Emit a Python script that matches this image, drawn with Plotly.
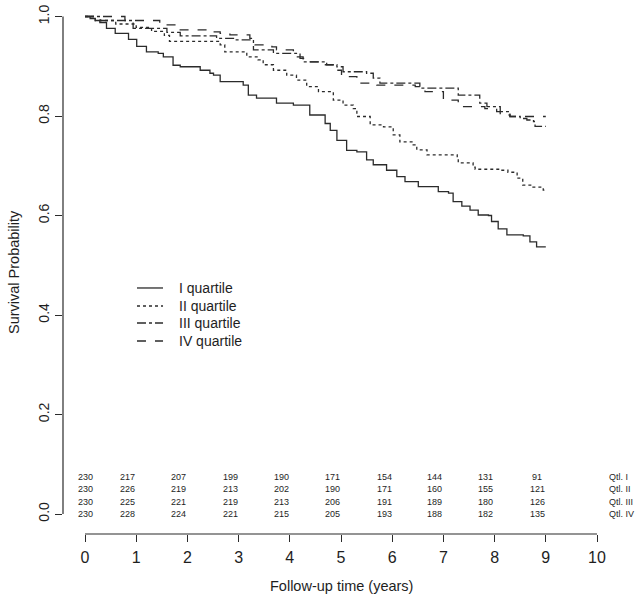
import plotly.graph_objects as go

# ---------------- data ----------------
t_q1 = [0, 0.10, 0.20, 0.29, 0.42, 0.59, 0.85, 1.01, 1.20, 1.43, 1.53, 1.72, 1.86, 2.25, 2.44, 2.51, 2.64,
        3.09, 3.19, 3.35, 3.74, 4.07, 4.39, 4.69, 4.79, 4.92, 5.11, 5.31, 5.50, 5.63, 5.89, 6.09, 6.25, 6.51,
        6.90, 7.10, 7.19, 7.36, 7.52, 7.68, 7.88, 7.94, 8.07, 8.24, 8.56, 8.69, 8.82, 9.0]
s_q1 = [1.0, 0.996, 0.992, 0.988, 0.976, 0.966, 0.954, 0.940, 0.929, 0.926, 0.919, 0.902, 0.899, 0.892, 0.886,
        0.882, 0.869, 0.862, 0.842, 0.836, 0.826, 0.822, 0.802, 0.785, 0.771, 0.751, 0.731, 0.728, 0.712, 0.702,
        0.691, 0.678, 0.668, 0.658, 0.648, 0.645, 0.628, 0.619, 0.611, 0.601, 0.600, 0.588, 0.573, 0.561, 0.559,
        0.547, 0.537, 0.537]

t_q2 = [0, 0.30, 0.60, 1.00, 1.30, 1.55, 1.65, 2.64, 2.73, 3.16, 3.38, 3.48, 3.68, 3.94, 4.13, 4.33, 4.56,
        4.85, 5.04, 5.24, 5.31, 5.57, 5.83, 6.02, 6.15, 6.41, 6.48, 6.68, 7.27, 7.29, 7.58, 7.62, 8.11, 8.26,
        8.44, 8.55, 8.75, 8.95, 9.0]
s_q2 = [1.0, 0.992, 0.985, 0.978, 0.970, 0.962, 0.950, 0.943, 0.929, 0.919, 0.913, 0.903, 0.892, 0.882, 0.872,
        0.859, 0.849, 0.832, 0.822, 0.815, 0.799, 0.782, 0.778, 0.762, 0.748, 0.742, 0.732, 0.722, 0.716, 0.706,
        0.697, 0.693, 0.691, 0.687, 0.675, 0.661, 0.657, 0.651, 0.651]

t_q3 = [0, 0.20, 0.94, 1.60, 1.86, 2.57, 2.90, 3.29, 3.68, 4.13, 4.26, 4.72, 4.92, 5.04, 5.50, 5.63, 5.76,
        6.54, 7.29, 7.71, 7.85, 8.11, 8.30, 8.50, 8.63, 8.76, 8.79, 9.0]
s_q3 = [1.0, 0.992, 0.976, 0.968, 0.961, 0.956, 0.953, 0.933, 0.926, 0.919, 0.909, 0.903, 0.899, 0.889, 0.886,
        0.876, 0.866, 0.856, 0.842, 0.826, 0.819, 0.809, 0.799, 0.795, 0.792, 0.789, 0.779, 0.779]

t_q4 = [0, 0.78, 1.46, 1.80, 2.40, 2.64, 2.83, 3.22, 3.32, 3.65, 3.74, 4.07, 4.20, 4.30, 4.59, 4.92, 5.01,
        5.31, 5.70, 6.45, 6.64, 7.00, 7.29, 7.81, 8.04, 8.11, 8.30, 9.0]
s_q4 = [1.0, 0.992, 0.983, 0.973, 0.969, 0.966, 0.963, 0.956, 0.943, 0.939, 0.933, 0.926, 0.916, 0.909, 0.903,
        0.892, 0.879, 0.866, 0.862, 0.859, 0.849, 0.832, 0.819, 0.815, 0.809, 0.802, 0.799, 0.799]

series_names = ["I quartile", "II quartile", "III quartile", "IV quartile"]
row_labels = ["Qtl. I", "Qtl. II", "Qtl. III", "Qtl. IV"]

risk_times = [0, 0.83, 1.83, 2.84, 3.83, 4.83, 5.84, 6.83, 7.83, 8.83]
risk_q1 = [230, 217, 207, 199, 190, 171, 154, 144, 131, 91]
risk_q2 = [230, 226, 219, 213, 202, 190, 171, 160, 155, 121]
risk_q3 = [230, 225, 221, 219, 213, 206, 191, 189, 180, 126]
risk_q4 = [230, 228, 224, 221, 215, 205, 193, 188, 182, 135]

x_ticks = list(range(0, 11))
y_ticks = [0.0, 0.2, 0.4, 0.6, 0.8, 1.0]
y_tick_text = ["0.0", "0.2", "0.4", "0.6", "0.8", "1.0"]

# ---------------- figure ----------------
FONT = "Liberation Sans, Arial, Helvetica, sans-serif"
LINE_COL = "#2b2b2b"
TXT = "#1e1e1e"

fig = go.Figure()
dashes = ["solid", "dot", "dashdot", "dash"]
for t, s, name, d in zip([t_q1, t_q2, t_q3, t_q4], [s_q1, s_q2, s_q3, s_q4], series_names, dashes):
    fig.add_trace(go.Scatter(x=t, y=s, mode="lines", name=name, line_shape="hv", showlegend=False,
                             line=dict(color=LINE_COL, width=1.3, dash=d)))

row_y = [0.0744, 0.0503, 0.0241, 0.0]
annotations = []
for vals, lab, yy in zip([risk_q1, risk_q2, risk_q3, risk_q4], row_labels, row_y):
    for tx, v in zip(risk_times, vals):
        annotations.append(dict(x=tx, y=yy, xref="x", yref="y", text=str(v), showarrow=False,
                                font=dict(size=9, color=TXT, family=FONT), xanchor="center", yanchor="middle"))
    annotations.append(dict(x=10.2, y=yy, xref="x", yref="y", text=lab, showarrow=False,
                            font=dict(size=9, color=TXT, family=FONT), xanchor="left", yanchor="middle"))

annotations.append(dict(x=-0.0864, y=0.5, xref="paper", yref="paper", text="Survival Probability",
                        textangle=-90, showarrow=False, font=dict(size=14.5, color=TXT, family=FONT),
                        xanchor="center", yanchor="middle"))
annotations.append(dict(x=5, y=-0.0998, xref="x", yref="paper", text="Follow-up time (years)",
                        showarrow=False, font=dict(size=14.5, color=TXT, family=FONT),
                        xanchor="center", yanchor="middle"))

shapes = [
    dict(type="line", xref="x", yref="paper", x0=0, x1=10, y0=0, y1=0, line=dict(color=LINE_COL, width=1.2)),
    dict(type="line", xref="paper", yref="y", x0=0, x1=0, y0=0, y1=1, line=dict(color=LINE_COL, width=1.2)),
]

# manual legend (R-style, tight rows)
leg_x0, leg_x1, leg_tx = 0.1305, 0.1764, 0.2011
leg_rows = [0.4695, 0.4351, 0.4027, 0.3683]
for name, d, yy in zip(series_names, dashes, leg_rows):
    shapes.append(dict(type="line", xref="paper", yref="paper", x0=leg_x0, x1=leg_x1, y0=yy, y1=yy,
                       line=dict(color=LINE_COL, width=1.3, dash=d)))
    annotations.append(dict(x=leg_tx, y=yy, xref="paper", yref="paper", text=name, showarrow=False,
                            font=dict(size=14, color=TXT, family=FONT), xanchor="left", yanchor="middle"))

fig.update_layout(
    width=641, height=603,
    margin=dict(l=63, r=11, t=10, b=69),
    paper_bgcolor="white", plot_bgcolor="white",
    font=dict(family=FONT, color=TXT, size=14),
    showlegend=False,
    xaxis=dict(range=[-0.4297, 10.6445], showgrid=False, zeroline=False, showline=False, automargin=False,
               tickmode="array", tickvals=x_ticks, ticks="outside", ticklen=7, tickwidth=1.2,
               tickcolor=LINE_COL, ticklabelstandoff=2, tickfont=dict(size=16, family=FONT, color=TXT)),
    yaxis=dict(range=[-0.0402, 1.0131], showgrid=False, zeroline=False, showline=False, automargin=False,
               tickmode="array", tickvals=y_ticks, ticktext=y_tick_text, ticks="outside", ticklen=7,
               tickwidth=1.2, tickcolor=LINE_COL, tickangle=-90, tickfont=dict(size=14, family=FONT, color=TXT)),
    annotations=annotations,
    shapes=shapes,
)

fig.write_html("out.html", config={"displayModeBar": False},
               post_script="document.body.style.margin='0';document.body.style.overflow='hidden';")
